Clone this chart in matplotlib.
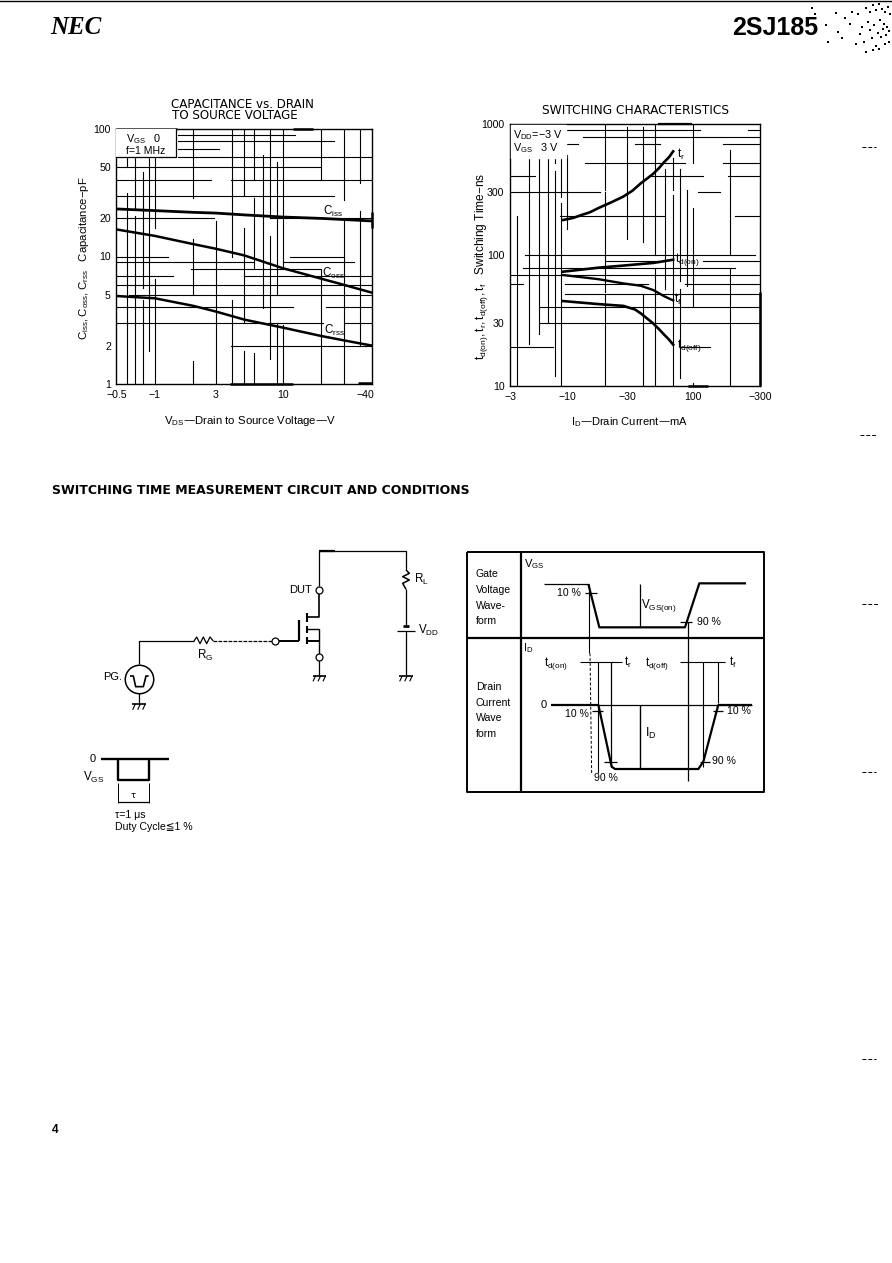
import matplotlib
matplotlib.use('Agg')
import matplotlib.pyplot as plt

plt.rcParams['font.family'] = ['Liberation Sans', 'DejaVu Sans']
plt.rcParams['mathtext.default'] = 'regular'

W, H = 892, 1263

# Capacitance chart
vds = [0.5, 1, 2, 3, 5, 10, 20, 30, 50]
ciss = [23.6, 22.9, 22.2, 21.9, 21.2, 20.4, 19.9, 19.5, 19.0]
coss = [16.3, 14.5, 12.5, 11.5, 10.2, 8.1, 6.7, 6.0, 5.2]
crss = [4.9, 4.7, 4.1, 3.7, 3.2, 2.77, 2.38, 2.2, 2.0]
cap_yticks = [1, 2, 5, 10, 20, 50, 100]
cap_xticks = [0.5, 1, 3, 10, 44]
cap_xlabels = ['\u22120.5', '\u22121', '3', '10', '\u221240']

# grid pieces of the scan: value -> visible spans (axes fraction)
cap_v = {
    0.6: [(0, .75), (.85, .89)], 0.7: [(0, .66), (.69, .89)], 0.8: [(0, .33), (.375, .83)],
    0.9: [(.13, .89)], 1: [(0, .41), (.61, .89)], 2: [(0, .09), (.35, .57), (.73, 1)],
    3: [(0, .64)], 4: [(0, .33), (.5, 1)], 5: [(0, .13), (.24, .61), (.74, 1)],
    6: [(0, .12), (.45, .73), (.8, 1)], 7: [(.3, .9)], 8: [(.1, .58), (.65, 1)],
    9: [(0, .24), (.35, .87)], 10: [(0, .23), (.45, 1)], 20: [(0, .45), (.8, 1)],
    30: [(0, .64), (.72, 1)], 40: [(.15, .68), (.79, 1)],
}
cap_h = {
    90: [(.24, .7)], 80: [(.24, .85)], 70: [(.24, .4)], 60: [(.24, 1)], 50: [(0, .8)],
    40: [(0, .37), (.45, 1)], 30: [(0, .85)], 20: [(0, .38), (.6, 1)], 10: [(0, .2), (.68, .89)],
    9: [(0, .54), (.65, .93)], 8: [(.29, .8)], 7: [(0, .22), (.5, 1)], 6: [(0, 1)],
    5: [(.05, 1)], 4: [(0, .69), (.82, 1)], 3: [(0, .81), (.89, 1)], 2: [(.45, 1)],
}

# Switching chart
id_r = [9.3, 11.2, 13, 15.2, 17.7, 22.6, 28, 33.2, 38.7, 43.8, 48.6, 53.9, 59, 64.9, 70]
t_r = [185, 192, 202, 212, 228, 253, 279, 310, 353, 386, 417, 460, 509, 558, 618]
id_on = [9.3, 17.7, 28, 48.6, 70]
td_on = [74.6, 80, 83, 87, 92]
id_f = [9.3, 17.7, 28, 38.7, 48.6, 53.9, 59, 70]
t_f = [70.3, 65.4, 60.7, 58.2, 54, 51.1, 48.6, 45]
id_off = [9.3, 17.7, 23.3, 28, 32.6, 34.7, 38.7, 43.5, 48.6, 53.9, 59, 64.9, 70]
td_off = [44.5, 42.2, 41.4, 40.9, 39.1, 38.4, 35.8, 32.7, 30, 27.2, 24.8, 22.6, 20.7]
sw_yticks = [10, 30, 100, 300, 1000]
sw_ylabels = ['10', '30', '100', '300', '1000']
sw_xticks = [3.5, 10, 30, 100, 345]
sw_xlabels = ['\u22123', '\u221210', '\u221230', '100', '\u2212300']

sw_v = {
    4: [(0, .65)], 5: [(.16, .88)], 6: [(.2, .88)], 7: [(.24, .88)], 8: [(.04, .82), (.85, .88)],
    9: [(0, .7), (.72, .88)], 10: [(.6, .88)], 20: [(0, .35), (.36, .74), (.75, 1)],
    30: [(.56, .99)], 40: [(0, .35), (.55, .99)], 50: [(0, .45), (.5, 1)], 60: [(.37, .83)],
    70: [(0, .73), (.75, .87)], 80: [(.03, .37), (.4, .83)], 90: [(.38, .75)], 100: [(0, .01), (.3, .68), (.85, 1)],
    200: [(0, .45), (.5, .9)],
}
sw_h = {
    900: [(.22, .76), (.95, 1)], 800: [(.29, 1)], 700: [(0, .27), (.5, .6), (.85, 1)],
    500: [(.3, .7), (.85, 1)], 400: [(0, .1), (.55, .77), (.87, 1)], 300: [(0, .36), (.75, .84)],
    200: [(.2, .62), (.9, 1)], 100: [(.06, .98)], 90: [(.38, .6), (.77, 1)], 80: [(.05, .9)],
    70: [(0, 1)], 60: [(0, .05), (.22, .55), (.7, 1)], 50: [(.22, 1)], 40: [(.12, .7), (.7, 1)],
    30: [(.12, 1)], 20: [(0, .17), (.68, .8)],
}

# scanner specks, top right corner
speck_x = [812, 815, 826, 836, 845, 852, 858, 866, 870, 873, 876, 879, 882, 885, 888, 890,
           838, 850, 862, 868, 874, 880, 884, 887, 860, 870, 878, 883, 889, 872, 881, 886,
           828, 842, 856, 864, 876, 885, 873, 879, 866, 889]
speck_y = [8, 14, 25, 13, 18, 12, 14, 8, 12, 5, 10, 4, 9, 12, 7, 14,
           32, 24, 27, 22, 25, 20, 24, 27, 34, 30, 33, 29, 31, 38, 37, 35,
           42, 38, 44, 42, 46, 44, 50, 49, 52, 42]

fig = plt.figure(figsize=(W / 100, H / 100), dpi=100)


def add_axes_px(x0, y0, x1, y1):
    return fig.add_axes([x0 / W, 1 - y1 / H, (x1 - x0) / W, (y1 - y0) / H])


def draw_grid(ax, vert, horiz):
    for val, spans in vert.items():
        for a, b in spans:
            ax.plot([val, val], [a, b], color='black', lw=0.8, transform=ax.get_xaxis_transform())
    for val, spans in horiz.items():
        for a, b in spans:
            ax.plot([a, b], [val, val], color='black', lw=0.8, transform=ax.get_yaxis_transform())


def style_log(ax):
    ax.set_xscale('log')
    ax.set_yscale('log')
    ax.minorticks_off()
    ax.tick_params(length=0, labelsize=7.6, pad=4)
    for s in ax.spines.values():
        s.set_linewidth(1.0)


# left chart
ax1 = add_axes_px(116.5, 129, 372, 384)
style_log(ax1)
ax1.set_xlim(0.5, 50)
ax1.set_ylim(1, 100)
draw_grid(ax1, cap_v, cap_h)
ax1.plot(vds, ciss, color='black', lw=2.0)
ax1.plot(vds, coss, color='black', lw=1.8)
ax1.plot(vds, crss, color='black', lw=1.8)
ax1.set_xticks(cap_xticks, cap_xlabels)
ax1.set_yticks(cap_yticks, [str(v) for v in cap_yticks])
ax1.minorticks_off()

# right chart
ax2 = add_axes_px(510, 124, 760, 386)
style_log(ax2)
ax2.set_xlim(3.5, 345)
ax2.set_ylim(10, 1000)
draw_grid(ax2, sw_v, sw_h)
ax2.plot(id_r, t_r, color='black', lw=1.9)
ax2.plot(id_on, td_on, color='black', lw=1.9)
ax2.plot(id_f, t_f, color='black', lw=1.7)
ax2.plot(id_off, td_off, color='black', lw=1.9)
ax2.set_xticks(sw_xticks, sw_xlabels)
ax2.set_yticks(sw_yticks, sw_ylabels)
ax2.minorticks_off()

# page layer in pixel coordinates, for text and the schematic
pg = fig.add_axes([0, 0, 1, 1], facecolor='none')
pg.set_xlim(0, W)
pg.set_ylim(H, 0)
pg.axis('off')


def txt(x, y, s, size=8, ha='left', **kw):
    pg.text(x, y, s, fontsize=size, ha=ha, va='center', color='black', **kw)


def line(pts, lw=0.9, ox=0, oy=0, **kw):
    xs = [ox + p[0] / 3 for p in pts]
    ys = [oy + p[1] / 3 for p in pts]
    pg.plot(xs, ys, color='black', lw=lw, solid_capstyle='butt', **kw)


# header and margin
pg.plot([0, 892], [1, 1], color='black', lw=1.0)
txt(50, 27, 'NEC', size=18, family='Liberation Serif', weight='bold', style='italic')
txt(732, 28, '2SJ185', size=18, weight='bold')
txt(52, 1130, '4', size=8.5, weight='bold')
pg.scatter(speck_x, speck_y, s=0.6, color='black', marker='s', linewidths=0)
for y0, x0, x1 in [(147, 862, 876), (435, 860, 876), (604, 862, 878), (772, 862, 876), (1059, 862, 876)]:
    pg.plot([x0, x1], [y0, y0], color='black', lw=0.7, ls=(0, (4, 2)))

# thick patches of the frames
line([(137, 103), (320, 103)], lw=1.8, ox=70, oy=95)
line([(670, 101), (730, 101)], lw=1.8, ox=70, oy=95)
line([(480, 866), (670, 866)], lw=1.8, ox=70, oy=95)
line([(865, 863), (905, 863)], lw=1.8, ox=70, oy=95)
line([(905, 350), (905, 400)], lw=1.8, ox=70, oy=95)
line([(580, 87), (680, 87)], lw=1.6, ox=465, oy=95)
line([(668, 872), (730, 872)], lw=1.8, ox=465, oy=95)
line([(885, 590), (885, 872)], lw=1.8, ox=465, oy=95)

# chart texts
txt(242, 105, 'CAPACITANCE vs. DRAIN', size=8.6, ha='center', family='DejaVu Sans')
txt(235, 115.5, 'TO SOURCE VOLTAGE', size=8.6, ha='center', family='DejaVu Sans')
txt(635, 110, 'SWITCHING CHARACTERISTICS', size=8.8, ha='center', family='DejaVu Sans')
txt(250, 421, '$V_{DS}$\u2014Drain to Source Voltage\u2014V', size=8.2, ha='center')
txt(629, 422, '$I_D$\u2014Drain Current\u2014mA', size=8, ha='center')
txt(84, 258, '$C_{iss},C_{oss},C_{rss}$   Capacitance\u2212pF', size=8.2, ha='center', rotation=90)
txt(481, 266, '$t_{d(on)},t_r,t_{d(off)},t_f$   Switching Time\u2212ns', size=8.6, ha='center', rotation=90)

# condition box and curve names, left
pg.fill([116, 176, 176, 116], [129, 129, 157, 157], color='white', zorder=3)
pg.plot([176, 176, 116], [129, 157, 157], color='black', lw=0.9, zorder=3)
pg.text(126, 139, '$V_{GS}$   0', fontsize=7.8, va='center', zorder=4)
pg.text(126, 151, 'f=1 MHz', fontsize=7.6, va='center', zorder=4)
txt(323, 211, '$C_{iss}$', size=8.4)
txt(322, 273, '$C_{oss}$', size=8.4)
txt(324, 330, '$C_{rss}$', size=8.4)

# condition box and curve names, right
pg.fill([511, 566, 566, 511], [125, 125, 158, 158], color='white', zorder=3)
pg.text(513, 135, '$V_{DD}$=\u22123 V', fontsize=7.8, va='center', zorder=4)
pg.text(513, 148, '$V_{GS}$   3 V', fontsize=7.8, va='center', zorder=4)
txt(677, 154, '$t_r$', size=8.6)
txt(675, 259, '$t_{d(on)}$', size=8.6)
txt(674, 299, '$t_f$', size=8.6)
txt(677, 346, '$t_{d(off)}$', size=8.6)

# section title
txt(52, 491, 'SWITCHING TIME MEASUREMENT CIRCUIT AND CONDITIONS', size=9, weight='bold', family='DejaVu Sans')

# schematic
cx, cy = 70, 540
c = dict(ox=cx, oy=cy)
line([(207, 372), (207, 303), (372, 303)], **c)
line([(372, 303), (380, 291), (390, 311), (400, 291), (410, 311), (420, 291), (430, 303)], **c)
line([(430, 303), (606, 303)], ls=(0, (3, 1)), **c)
line([(625, 303), (686, 303)], lw=1.4, **c)
line([(686, 240), (686, 303)], lw=1.6, **c)
line([(712, 220), (712, 245)], lw=1.5, **c)
line([(712, 258), (712, 280)], lw=1.5, **c)
line([(712, 292), (712, 312)], lw=1.5, **c)
line([(712, 230), (748, 230), (748, 160)], lw=1.2, **c)
line([(712, 268), (748, 268), (748, 342)], lw=1.0, **c)
line([(712, 302), (748, 302)], lw=1.4, **c)
line([(748, 138), (748, 32), (1008, 32), (1008, 90)], **c)
line([(748, 32), (795, 32)], lw=1.6, **c)
line([(1008, 90), (1018, 100), (998, 110), (1018, 120), (998, 130), (1008, 148)], lw=1.1, **c)
line([(1008, 148), (1008, 255)], **c)
line([(998, 258), (1018, 258)], lw=2, **c)
line([(982, 272), (1034, 272)], **c)
line([(1008, 272), (1008, 405)], **c)
line([(748, 360), (748, 405)], **c)
line([(207, 460), (207, 492)], **c)
for gx, gy in [(207, 492), (748, 407), (1008, 407)]:
    line([(gx - 20, gy), (gx + 20, gy)], lw=1.2, **c)
    for k in [-15, 0, 15]:
        line([(gx + k + 4, gy), (gx + k - 4, gy + 17)], lw=0.8, **c)
for ox_, oy_ in [(748, 149), (616, 303), (748, 351)]:
    pg.plot(cx + ox_ / 3, cy + oy_ / 3, 'o', ms=5, mfc='white', mec='black', mew=0.9)
pg.plot(cx + 207 / 3, cy + 417 / 3, 'o', ms=20.5, mfc='white', mec='black', mew=1.1)
line([(180, 408), (190, 408), (197, 440), (220, 440), (228, 408), (236, 408)], lw=1.2, **c)
txt(289, 590, 'DUT', size=8)
txt(414, 579, '$R_L$', size=8.4)
txt(418, 630, '$V_{DD}$', size=8.4)
txt(197, 655, '$R_G$', size=8.4)
txt(103, 677, 'PG.', size=8)

# gate pulse
line([(92, 657), (297, 657)], lw=1.7, **c)
line([(144, 657), (144, 720), (238, 720), (238, 657)], lw=1.7, **c)
line([(144, 730), (144, 788)], lw=0.7, **c)
line([(238, 730), (238, 788)], lw=0.7, **c)
line([(144, 785), (238, 785)], lw=0.9, **c)
txt(90, 759, '0', size=8)
txt(83, 777, '$V_{GS}$', size=8.4)
txt(131, 795, '\u03c4', size=6, family='DejaVu Sans')
txt(115, 815, '\u03c4=1 \u03bcs', size=7.6)
txt(115, 827, 'Duty Cycle\u22661 %', size=7.6, family=['Liberation Sans', 'DejaVu Sans'])

# waveform table
wx, wy = 460, 540
w = dict(ox=wx, oy=wy)
line([(22, 35), (912, 35), (912, 757), (22, 757), (22, 35)], lw=1.4, **w)
line([(182, 35), (182, 757)], lw=1.6, **w)
line([(22, 293), (912, 293)], lw=1.6, **w)
line([(252, 132), (385, 132)], **w)
line([(385, 132), (418, 262), (675, 262), (718, 130), (858, 130)], lw=1.6, **w)
line([(388, 132), (388, 340)], lw=0.8, **w)
line([(390, 340), (395, 700)], lw=0.7, ls=(0, (3, 2)), **w)
line([(540, 132), (540, 262)], **w)
line([(685, 245), (685, 722)], **w)
line([(375, 160), (410, 160)], **w)
line([(660, 245), (695, 245)], **w)
line([(274, 494), (415, 494)], lw=1.6, **w)
line([(415, 494), (875, 494)], lw=0.9, **w)
line([(775, 494), (875, 494)], lw=1.6, **w)
line([(415, 494), (455, 680), (465, 687), (715, 687), (730, 665), (775, 494)], lw=1.6, **w)
line([(415, 365), (415, 700)], lw=0.8, **w)
line([(452, 365), (452, 680)], lw=0.9, **w)
line([(730, 365), (730, 680)], lw=0.8, **w)
line([(775, 365), (775, 490)], lw=0.8, **w)
line([(540, 494), (540, 687)], lw=1.0, **w)
line([(360, 367), (485, 367)], lw=0.8, **w)
line([(660, 367), (795, 367)], lw=0.8, **w)
line([(395, 514), (428, 514)], **w)
line([(432, 665), (472, 665)], **w)
line([(720, 665), (750, 665)], **w)
line([(760, 512), (790, 512)], **w)

txt(476, 574, 'Gate', size=7.6)
txt(476, 590, 'Voltage', size=7.6)
txt(476, 606, 'Wave-', size=7.6)
txt(476, 621, 'form', size=7.6)
txt(476, 687, 'Drain', size=7.6)
txt(476, 703, 'Current', size=7.6)
txt(476, 718, 'Wave', size=7.6)
txt(476, 734, 'form', size=7.6)
txt(524, 564, '$V_{GS}$', size=8)
txt(557, 593, '10 %', size=7.6)
txt(641, 606, '$V_{GS(on)}$', size=8.4)
txt(697, 622, '90 %', size=7.6)
txt(523, 648, '$I_D$', size=8)
txt(544, 663, '$t_{d(on)}$', size=8.4)
txt(624, 662, '$t_r$', size=8.4)
txt(645, 663, '$t_{d(off)}$', size=8.4)
txt(729, 662, '$t_f$', size=8.4)
txt(541, 705, '0', size=8)
txt(565, 714, '10 %', size=7.6)
txt(727, 711, '10 %', size=7.6)
txt(645, 733, '$I_D$', size=9)
txt(712, 761, '90 %', size=7.6)
txt(594, 778, '90 %', size=7.6)

fig.savefig('out.png', dpi=100, facecolor='white')
